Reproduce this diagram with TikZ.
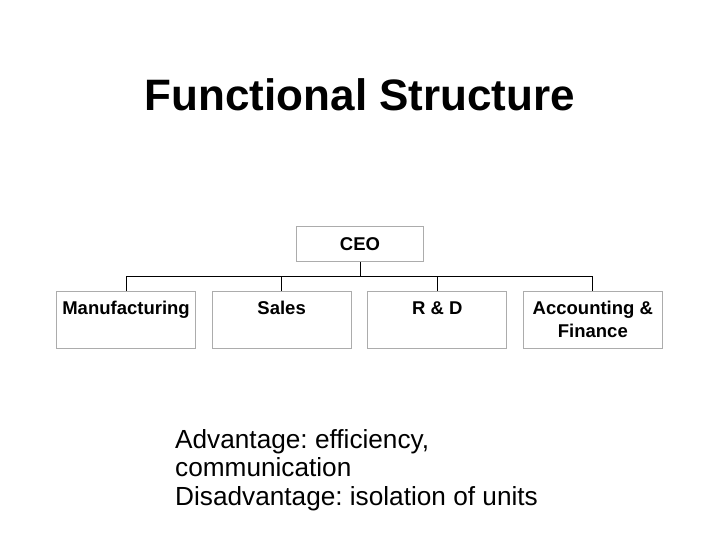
\documentclass[tikz,border=0pt]{standalone}
\usepackage{fontspec}
\setmainfont{Liberation Sans}
\usetikzlibrary{positioning}
\frenchspacing

\begin{document}
\begin{tikzpicture}[
  x=1pt, y=-1pt,
  node distance=15.5pt,
  box/.style={draw=gray!65, line width=1.1pt, minimum width=139pt, minimum height=57pt,
    inner sep=0pt},
  deptlabel/.style={anchor=north, font=\fontsize{18.5}{23}\selectfont\bfseries, align=center,
    inner sep=0pt, yshift=-10pt},
  link/.style={draw=black, line width=1pt}
]
\useasboundingbox (0,0) rectangle (720,540);
\node[font=\fontsize{44}{52}\selectfont\bfseries] (title) at (360,95) {Functional Structure};

\node[box, minimum width=127pt, minimum height=35pt,
  font=\fontsize{18.5}{22}\selectfont\bfseries] (ceo) at (360,244) {CEO};

\node[box, anchor=north west, label={[deptlabel]north:Manufacturing}] (mfg) at (56,291) {};
\node[box, right=of mfg, label={[deptlabel]north:Sales}] (sales) {};
\node[box, right=of sales, label={[deptlabel]north:R \& D}] (rnd) {};
\node[box, right=of rnd, label={[deptlabel]north:Accounting \&\\Finance}] (acct) {};

\draw[link] (ceo.south) -- ++(0,14) -| (mfg.north);
\draw[link] (ceo.south) -- ++(0,14) -| (sales.north);
\draw[link] (ceo.south) -- ++(0,14) -| (rnd.north);
\draw[link] (ceo.south) -- ++(0,14) -| (acct.north);

\node[anchor=north west, align=left, inner sep=0pt,
  font=\fontsize{26.2}{28.5}\selectfont] (notes) at (175,429)
  {Advantage: efficiency,\\communication\\Disadvantage: isolation of units};
\end{tikzpicture}
\end{document}
